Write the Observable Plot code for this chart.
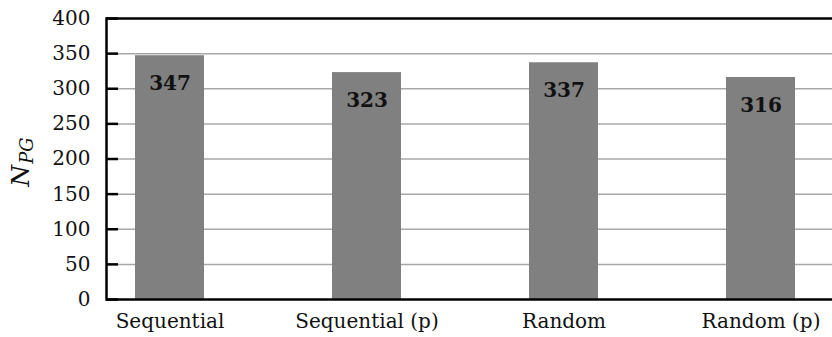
<!DOCTYPE html>
<html>
<head>
<meta charset="utf-8">
<script src="https://cdn.jsdelivr.net/npm/d3@7"></script>
<script src="https://cdn.jsdelivr.net/npm/@observablehq/plot@0.6"></script>
<style>
  html, body { margin: 0; padding: 0; background: #fff; }
  svg { display: block; }
</style>
</head>
<body>
<div id="chart"></div>
<script>
const categories = ["Sequential", "Sequential (p)", "Random", "Random (p)"];
const values = [347, 323, 337, 316];
const gridTicks = [50, 100, 150, 200, 250, 300, 350];
const yTicks = [0, 50, 100, 150, 200, 250, 300, 350, 400];

const data = categories.map((c, i) => ({category: c, value: values[i]}));
const serif = "DejaVu Serif";

const chart = Plot.plot({
  width: 832,
  height: 337,
  marginLeft: 106,
  marginRight: 0,
  marginTop: 18,
  marginBottom: 38,
  style: {fontFamily: serif, fontSize: "20px", background: "#fff", color: "#000"},
  x: {domain: categories, paddingInner: 0.651, paddingOuter: 0.16, align: 0.44, label: null},
  y: {domain: [0, 400], label: null},
  marks: [
    Plot.gridY(gridTicks, {stroke: "#a8a8a8", strokeOpacity: 1, strokeWidth: 1.5}),
    Plot.barY(data, {x: "category", y: "value", fill: "#808080", inset: 0}),
    Plot.text(data, {x: "category", y: "value", text: d => String(d.value), dy: 28, fontWeight: "bold", fontSize: 20, fontFamily: serif, fill: "#111", lineAnchor: "middle"}),
    Plot.tickY(yTicks, {y: d => d, stroke: "#000", strokeWidth: 2.5, insetRight: 714}),
    Plot.ruleY([0], {stroke: "#000", strokeWidth: 2.5}),
    Plot.ruleY([400], {stroke: "#000", strokeWidth: 2.5}),
    Plot.frame({anchor: "left", stroke: "#000", strokeWidth: 2.5}),
    Plot.axisY(yTicks, {tickSize: 0, tickPadding: 16, fontSize: 20, fontFamily: serif, fill: "#111", label: null}),
    Plot.axisX({tickSize: 0, tickPadding: 14, fontSize: 20, fontFamily: serif, fill: "#111", label: null})
  ]
});

document.getElementById("chart").appendChild(chart);

// Y axis title with subscript: N_PG
const svg = d3.select(chart);
const t = svg.append("text")
  .attr("transform", "translate(29,162) rotate(-90)")
  .attr("text-anchor", "middle")
  .attr("font-family", serif)
  .attr("font-style", "italic")
  .attr("font-size", 25)
  .attr("fill", "#111");
t.append("tspan").text("N");
t.append("tspan").attr("font-size", 18).attr("dy", 4).attr("dx", 1).text("PG");
</script>
</body>
</html>
